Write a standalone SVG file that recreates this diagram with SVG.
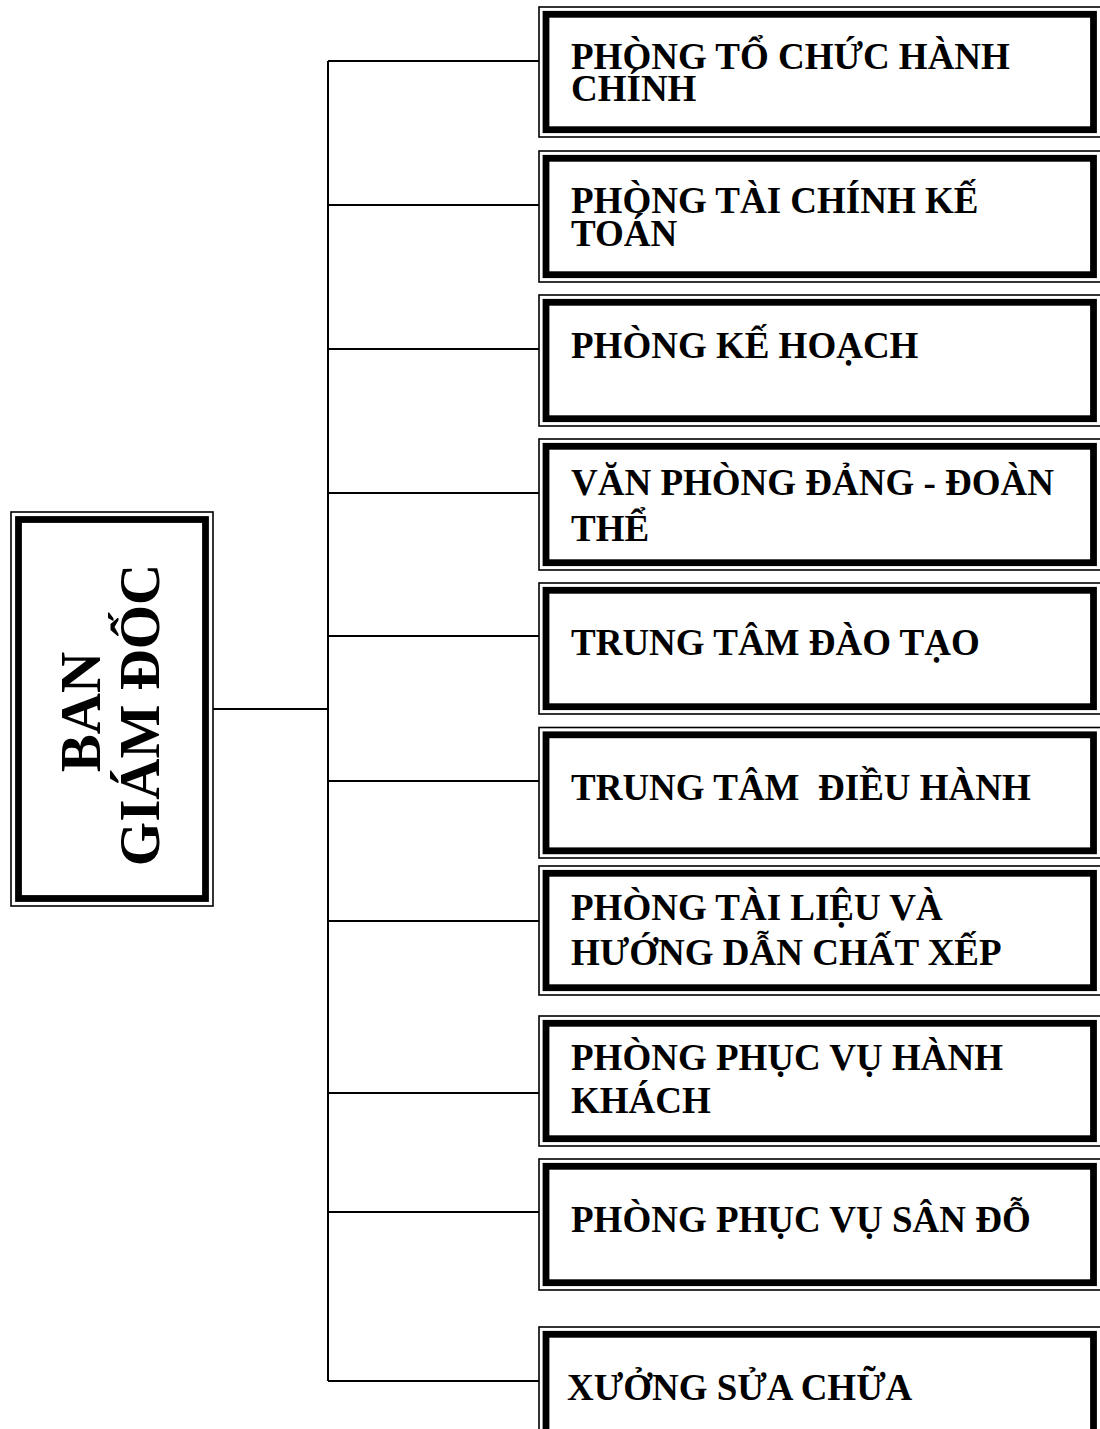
<svg xmlns="http://www.w3.org/2000/svg" width="1100" height="1429" viewBox="0 0 1100 1429">
<style>
.o{fill:none;stroke:#000;stroke-width:1.6}
.t{fill:#fff;stroke:#000;stroke-width:6.8}
.c{fill:none;stroke:#000;stroke-width:2}
text{font-family:"Liberation Serif","Times New Roman",serif;font-weight:bold;fill:#000}
.l{font-size:37px}
.m{font-size:57px}
</style>
<rect width="1100" height="1429" fill="#fff"/>
<g id="connectors">
<path class="c" d="M213,709H328M328,61V1381M328,61H539M328,205H539M328,349H539M328,493H539M328,636H539M328,781H539M328,921H539M328,1093H539M328,1212H539M328,1381H539"/>
</g>
<g id="ban-giam-doc">
<rect class="o" x="11" y="512" width="202" height="394"/>
<rect class="t" x="18.5" y="519.5" width="187" height="379"/>
<text class="m" transform="translate(100,712) rotate(-90)" text-anchor="middle">BAN</text>
<text class="m" transform="translate(159,715) rotate(-90)" text-anchor="middle">GIÁM ĐỐC</text>
</g>
<g id="box1">
<rect class="o" x="539" y="7" width="563" height="130"/>
<rect class="t" x="546" y="14.3" width="547.5" height="115.4"/>
<text class="l" x="571" y="69">PHÒNG TỔ CHỨC HÀNH</text>
<text class="l" x="571" y="101">CHÍNH</text>
</g>
<g id="box2">
<rect class="o" x="539" y="151" width="563" height="131"/>
<rect class="t" x="546" y="158.3" width="547.5" height="116.4"/>
<text class="l" x="571" y="213">PHÒNG TÀI CHÍNH KẾ</text>
<text class="l" x="571" y="246">TOÁN</text>
</g>
<g id="box3">
<rect class="o" x="539" y="295" width="563" height="131"/>
<rect class="t" x="546" y="302.3" width="547.5" height="116.4"/>
<text class="l" x="571" y="358">PHÒNG KẾ HOẠCH</text>
</g>
<g id="box4">
<rect class="o" x="539" y="439" width="563" height="131"/>
<rect class="t" x="546" y="446.3" width="547.5" height="116.4"/>
<text class="l" x="571" y="495">VĂN PHÒNG ĐẢNG - ĐOÀN</text>
<text class="l" x="571" y="541">THỂ</text>
</g>
<g id="box5">
<rect class="o" x="539" y="583" width="563" height="131"/>
<rect class="t" x="546" y="590.3" width="547.5" height="116.4"/>
<text class="l" x="571" y="655">TRUNG TÂM ĐÀO TẠO</text>
</g>
<g id="box6">
<rect class="o" x="539" y="727.5" width="563" height="130.5"/>
<rect class="t" x="546" y="734.8" width="547.5" height="116"/>
<text class="l" x="571" y="800" xml:space="preserve">TRUNG TÂM  ĐIỀU HÀNH</text>
</g>
<g id="box7">
<rect class="o" x="539" y="866" width="563" height="129"/>
<rect class="t" x="546" y="873.3" width="547.5" height="114.4"/>
<text class="l" x="571" y="920">PHÒNG TÀI LIỆU VÀ</text>
<text class="l" x="571" y="965">HƯỚNG DẪN CHẤT XẾP</text>
</g>
<g id="box8">
<rect class="o" x="539" y="1016" width="563" height="130"/>
<rect class="t" x="546" y="1023.3" width="547.5" height="115.4"/>
<text class="l" x="571" y="1070">PHÒNG PHỤC VỤ HÀNH</text>
<text class="l" x="571" y="1113">KHÁCH</text>
</g>
<g id="box9">
<rect class="o" x="539" y="1159" width="563" height="131"/>
<rect class="t" x="546" y="1166.3" width="547.5" height="116.4"/>
<text class="l" x="571" y="1232">PHÒNG PHỤC VỤ SÂN ĐỖ</text>
</g>
<g id="box10">
<rect class="o" x="539" y="1327" width="563" height="130"/>
<rect class="t" x="546" y="1334.3" width="547.5" height="115.4"/>
<text class="l" x="567" y="1400">XƯỞNG SỬA CHỮA</text>
</g>
</svg>
